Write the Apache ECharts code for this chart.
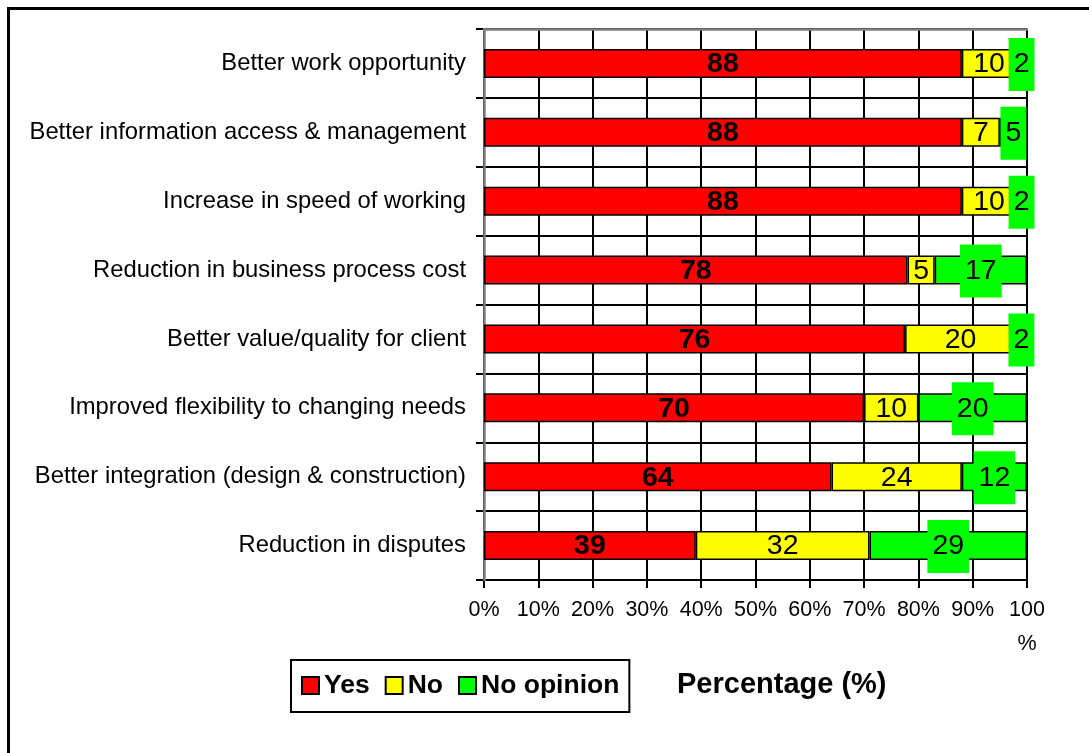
<!DOCTYPE html>
<html>
<head>
<meta charset="utf-8">
<script src="https://cdn.jsdelivr.net/npm/echarts@6/dist/echarts.min.js"></script>
<style>
html,body{margin:0;padding:0;background:#fff;}
#c{width:1089px;height:753px;}
</style>
</head>
<body>
<div id="c"></div>
<script>
const categories = [
  'Better work opportunity',
  'Better information access & management',
  'Increase in speed of working',
  'Reduction in business process cost',
  'Better value/quality for client',
  'Improved flexibility to changing needs',
  'Better integration (design & construction)',
  'Reduction in disputes'
];
const yesValues = [88, 88, 88, 78, 76, 70, 64, 39];
const noValues = [10, 7, 10, 5, 20, 10, 24, 32];
const noOpinionValues = [2, 5, 2, 17, 2, 20, 12, 29];
const xTicks = [0, 10, 20, 30, 40, 50, 60, 70, 80, 90, 100];

const totals = categories.map((_, i) => yesValues[i] + noValues[i] + noOpinionValues[i]);
const share = (arr) => arr.map((v, i) => v * 100 / totals[i]);

const FONT = 'Liberation Sans, Arial, sans-serif';
const chart = echarts.init(document.getElementById('c'), null, {renderer: 'canvas'});

function mkSeries(name, raw, color, labelExtra) {
  return {
    name: name,
    type: 'bar',
    stack: 'total',
    barWidth: 29,
    xAxisIndex: 0,
    yAxisIndex: 0,
    data: share(raw),
    itemStyle: {color: color, borderColor: '#000', borderWidth: 1.5},
    emphasis: {disabled: true},
    label: Object.assign({
      show: true,
      position: 'inside',
      offset: [0, 1],
      color: '#000',
      fontFamily: FONT,
      fontSize: 28.5,
      formatter: (p) => String(raw[p.dataIndex])
    }, labelExtra || {})
  };
}

chart.setOption({
  animation: false,
  backgroundColor: '#fff',
  textStyle: {fontFamily: FONT},
  grid: {left: 484, top: 29, width: 543, height: 551, containLabel: false, outerBoundsMode: 'none'},
  xAxis: [{
    type: 'value', min: 0, max: 100, interval: 10,
    axisLine: {show: true, lineStyle: {color: '#000', width: 2}},
    axisTick: {show: true, length: 8, lineStyle: {color: '#000', width: 2}},
    splitLine: {show: true, lineStyle: {color: '#000', width: 2}},
    axisLabel: {
      color: '#000', fontFamily: FONT, fontSize: 21.5, margin: 13, lineHeight: 34,
      formatter: (v) => v === 100 ? '100\n%' : v + '%'
    }
  }, {
    type: 'value', min: 0, max: 100, position: 'top', z: 1,
    axisLine: {show: true, lineStyle: {color: '#808080', width: 2.5}},
    axisTick: {show: false}, axisLabel: {show: false}, splitLine: {show: false}
  }],
  yAxis: [{
    type: 'category', data: categories, inverse: true,
    axisLine: {show: true, lineStyle: {color: '#000', width: 2}},
    axisTick: {show: true, length: 8, lineStyle: {color: '#000', width: 2}},
    splitLine: {show: true, lineStyle: {color: '#000', width: 2}},
    axisLabel: {color: '#000', fontFamily: FONT, fontSize: 23.8, margin: 18, padding: [3, 0, 0, 0]}
  }, {
    type: 'category', data: categories, inverse: true, position: 'right', z: 1,
    axisLine: {show: true, lineStyle: {color: '#808080', width: 2.5}},
    axisTick: {show: false}, axisLabel: {show: false}, splitLine: {show: false}
  }],
  legend: {
    left: 291, top: 660,
    orient: 'horizontal',
    icon: 'rect',
    itemWidth: 17, itemHeight: 17, itemGap: 15,
    padding: [12, 10, 13, 10],
    borderColor: '#000', borderWidth: 2,
    textStyle: {color: '#000', fontFamily: FONT, fontSize: 26.5, fontWeight: 'bold'},
    data: ['Yes', 'No', 'No opinion']
  },
  graphic: [{
    type: 'rect', silent: true, z: -10,
    shape: {x: 8.5, y: 8.5, width: 1300, height: 1000},
    style: {fill: null, stroke: '#000', lineWidth: 3}
  }, {
    type: 'text', silent: true, left: 677, top: 670,
    style: {text: 'Percentage (%)', fill: '#000', font: 'bold 29px ' + FONT}
  }],
  series: [
    mkSeries('Yes', yesValues, '#FF0000', {fontWeight: 'bold'}),
    mkSeries('No', noValues, '#FFFF00'),
    mkSeries('No opinion', noOpinionValues, '#00FF00', {backgroundColor: '#00FF00', padding: [12, 5, 12, 5], lineHeight: 29})
  ]
});
</script>
</body>
</html>
